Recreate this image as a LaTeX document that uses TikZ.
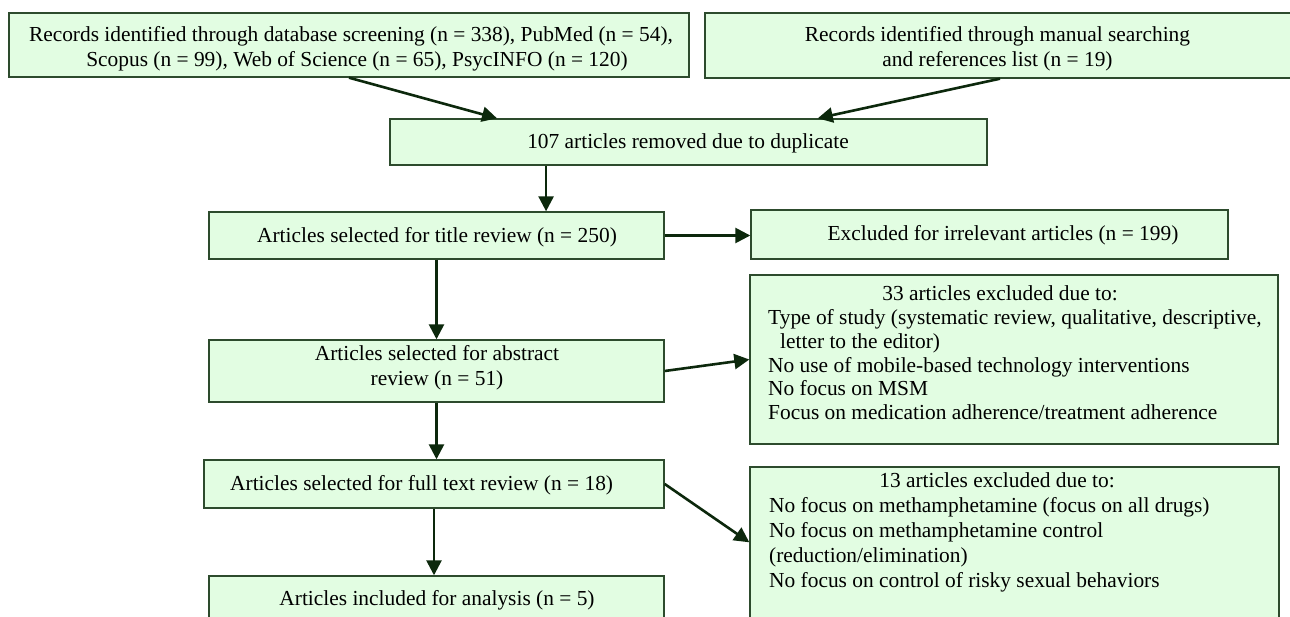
\documentclass[tikz,border=0pt]{standalone}
\usepackage{fontspec}
\setmainfont{Liberation Serif}
\usetikzlibrary{arrows.meta,calc}
\definecolor{boxfill}{RGB}{226,253,226}
\definecolor{boxline}{RGB}{45,75,45}
\definecolor{arrcol}{RGB}{12,40,12}
\tikzset{
  box/.style={rectangle, draw=boxline, fill=boxfill, line width=1.4pt, inner sep=0pt},
  arr/.style={draw=arrcol, line width=2.6pt, -{Triangle[length=15pt,width=15pt]}},
  txt/.style={inner sep=0pt, text=black, font=\fontsize{21.4}{23.4}\selectfont}
}
\begin{document}
\begin{tikzpicture}[x=1pt,y=-1pt]
\useasboundingbox (0,0) rectangle (1290,617);
\clip (0,0) rectangle (1290,617);
\fill[white] (0,0) rectangle (1290,617);
% boxes
\node[box, minimum width=680pt, minimum height=64pt] (A) at (349,45) {};
\node[box, minimum width=590pt, minimum height=65pt] (B) at (1000,45.5) {};
\node[box, minimum width=597pt, minimum height=46pt] (C) at (688.5,142) {};
\node[box, minimum width=455pt, minimum height=47pt] (D) at (436.5,235.5) {};
\node[box, minimum width=477pt, minimum height=49pt] (E) at (989.5,234.5) {};
\node[box, minimum width=528pt, minimum height=169pt] (F) at (1014,359.5) {};
\node[box, minimum width=455pt, minimum height=62pt] (G) at (436.5,371) {};
\node[box, minimum width=460pt, minimum height=48pt] (H) at (434,484) {};
\node[box, minimum width=455pt, minimum height=84pt] (I) at (436.5,618) {};
\node[box, minimum width=529pt, minimum height=193pt] (J) at (1014.5,563.5) {};
% texts
\node[txt, anchor=base] (A1) at (351,42) {Records identified through database screening (n = 338), PubMed (n = 54),};
\node[txt, anchor=base] (A2) at (357,67) {Scopus (n = 99), Web of Science (n = 65), PsycINFO (n = 120)};
\node[txt, anchor=base] (B1) at (997.5,42) {Records identified through manual searching};
\node[txt, anchor=base] (B2) at (997.5,67) {and references list (n = 19)};
\node[txt, anchor=base] (C1) at (688,149) {107 articles removed due to duplicate};
\node[txt, anchor=base] (D1) at (437,242.5) {Articles selected for title review (n = 250)};
\node[txt, anchor=base] (E1) at (1003,241) {Excluded for irrelevant articles (n = 199)};
\node[txt, anchor=base] (F1) at (1000,301) {33 articles excluded due to:};
\node[txt, anchor=base west] (F2) at (768,325) {Type of study (systematic review, qualitative, descriptive,};
\node[txt, anchor=base west] (F3) at (780,348.6) {letter to the editor)};
\node[txt, anchor=base west] (F4) at (768,372.2) {No use of mobile-based technology interventions};
\node[txt, anchor=base west] (F5) at (768,395.6) {No focus on MSM};
\node[txt, anchor=base west] (F6) at (768,419) {Focus on medication adherence/treatment adherence};
\node[txt, anchor=base] (G1) at (437,360) {Articles selected for abstract};
\node[txt, anchor=base] (G2) at (437,385) {review (n = 51)};
\node[txt, anchor=base west] (H1) at (230,490.5) {Articles selected for full text review (n = 18)};
\node[txt, anchor=base] (I1) at (437,605.5) {Articles included for analysis (n = 5)};
\node[txt, anchor=base] (J1) at (997,487) {13 articles excluded due to:};
\node[txt, anchor=base west] (J2) at (769,512) {No focus on methamphetamine (focus on all drugs)};
\node[txt, anchor=base west] (J3) at (769,537) {No focus on methamphetamine control};
\node[txt, anchor=base west] (J4) at (769,562) {(reduction/elimination)};
\node[txt, anchor=base west] (J5) at (769,587) {No focus on control of risky sexual behaviors};
% connectors
\coordinate (cA) at ($(C.north west)!0.18!(C.north east)$);
\coordinate (cB) at ($(C.north west)!0.716!(C.north east)$);
\coordinate (cC) at ($(C.south west)!0.262!(C.south east)$);
\coordinate (cJ) at ($(J.north west)+(0,76)$);
\draw[arr] (A.south) -- (cA);
\draw[arr] (B.south) -- (cB);
\draw[arr] (cC) -- (cC |- D.north);
\draw[arr] (D.east) -- (D.east -| E.west);
\draw[arr] (D.south) -- (D.south |- G.north);
\draw[arr] (G.east) -- (F.west);
\draw[arr] (G.south) -- (G.south |- H.north);
\draw[arr] (H.south) -- (H.south |- I.north);
\draw[arr] (H.east) -- (cJ);
\end{tikzpicture}
\end{document}
